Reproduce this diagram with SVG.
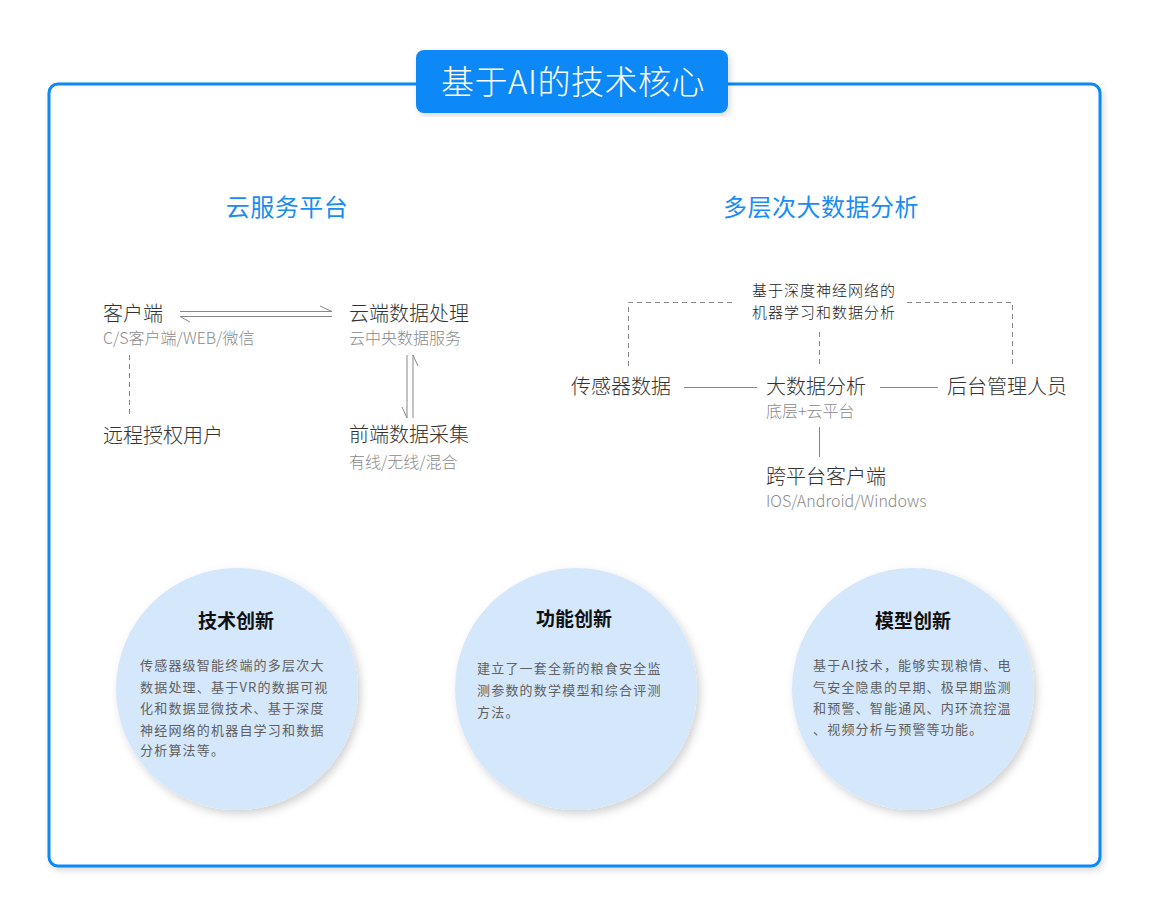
<svg xmlns="http://www.w3.org/2000/svg" width="1150" height="916" viewBox="0 0 1150 916">
<defs>
<style>
.t{font-family:"Noto Sans CJK SC","Noto Sans",sans-serif;}
.lbl{font-size:20px;fill:#333;font-weight:300;}
.sub{font-size:16px;fill:#8a8a8a;font-weight:300;}
.hd{font-size:24px;fill:#1a8cf5;letter-spacing:0.5px;}
.note{font-size:15px;fill:#222;letter-spacing:1px;font-weight:300;}
.ct{font-size:19px;font-weight:bold;fill:#111;text-anchor:middle;}
.cb{font-size:13px;fill:#606060;letter-spacing:1.2px;}
.ln{stroke:#888;stroke-width:1;fill:none;}
.dash{stroke:#888;stroke-width:1;fill:none;stroke-dasharray:5 4;}
.circ{fill:#d5e7fb;}
</style>
<filter id="sh" x="-20%" y="-20%" width="140%" height="140%">
<feDropShadow dx="3" dy="4" stdDeviation="4" flood-color="#000" flood-opacity="0.18"/>
</filter>
<filter id="sh2" x="-5%" y="-5%" width="110%" height="110%">
<feDropShadow dx="2" dy="3" stdDeviation="3" flood-color="#000" flood-opacity="0.15"/>
</filter>
</defs>
<rect width="1150" height="916" fill="#fff"/>
<g id="frame">
<rect x="49" y="84" width="1051" height="782" rx="9" fill="#fff" stroke="#0a88f7" stroke-width="3" filter="url(#sh2)"/>
</g>
<g id="title">
<rect x="416" y="50" width="312" height="63" rx="8" fill="#0a88f7" filter="url(#sh2)"/>
<text class="t" x="573" y="94" font-size="33" fill="#fff" text-anchor="middle" letter-spacing="0.5" font-weight="300">基于AI的技术核心</text>
</g>
<g id="hd-cloud"><text class="t hd" x="287" y="216" text-anchor="middle">云服务平台</text></g>
<g id="hd-big"><text class="t hd" x="821" y="216" text-anchor="middle">多层次大数据分析</text></g>

<g id="connectors">
<line class="ln" x1="180" y1="311.5" x2="332" y2="311.5"/>
<line class="ln" x1="320" y1="306" x2="332" y2="311.5"/>
<line class="ln" x1="180" y1="316.5" x2="332" y2="316.5"/>
<line class="ln" x1="180" y1="316.5" x2="190" y2="322"/>
<line class="ln" x1="407" y1="355" x2="407" y2="418"/>
<line class="ln" x1="402" y1="407" x2="407" y2="418"/>
<line class="ln" x1="413" y1="355" x2="413" y2="418"/>
<line class="ln" x1="413" y1="355" x2="418" y2="366"/>
<line class="dash" x1="129.5" y1="355" x2="129.5" y2="415"/>
<polyline class="dash" points="628.5,366 628.5,302.5 735,302.5"/>
<polyline class="dash" points="907,302.5 1012.5,302.5 1012.5,366"/>
<line class="dash" x1="819.5" y1="332" x2="819.5" y2="367"/>
<line class="ln" x1="684" y1="387.5" x2="757" y2="387.5"/>
<line class="ln" x1="880" y1="387.5" x2="938" y2="387.5"/>
<line class="ln" x1="819.5" y1="427" x2="819.5" y2="457"/>
</g>

<g id="n-client"><text class="t lbl" x="103" y="321">客户端</text><text class="t sub" x="103" y="344">C/S客户端/WEB/微信</text></g>
<g id="n-cloud"><text class="t lbl" x="349" y="321">云端数据处理</text><text class="t sub" x="349" y="344">云中央数据服务</text></g>
<g id="n-remote"><text class="t lbl" x="103" y="443">远程授权用户</text></g>
<g id="n-front"><text class="t lbl" x="349" y="442">前端数据采集</text><text class="t sub" x="349" y="468">有线/无线/混合</text></g>

<g id="n-ml"><text class="t note" x="824" y="296" text-anchor="middle">基于深度神经网络的</text><text class="t note" x="824" y="318" text-anchor="middle">机器学习和数据分析</text></g>
<g id="n-sensor"><text class="t lbl" x="571" y="394">传感器数据</text></g>
<g id="n-bigdata"><text class="t lbl" x="766" y="394">大数据分析</text><text class="t sub" x="766" y="417">底层+云平台</text></g>
<g id="n-admin"><text class="t lbl" x="947" y="394">后台管理人员</text></g>
<g id="n-cross"><text class="t lbl" x="766" y="484">跨平台客户端</text><text class="t sub" x="766" y="507">IOS/Android/Windows</text></g>

<g id="c-tech">
<circle class="circ" cx="237" cy="689" r="121" filter="url(#sh)"/>
<text class="t ct" x="236" y="628">技术创新</text>
<text class="t cb" x="140" y="670">传感器级智能终端的多层次大</text>
<text class="t cb" x="140" y="692">数据处理、基于VR的数据可视</text>
<text class="t cb" x="140" y="713">化和数据显微技术、基于深度</text>
<text class="t cb" x="140" y="735">神经网络的机器自学习和数据</text>
<text class="t cb" x="140" y="755">分析算法等。</text>
</g>
<g id="c-func">
<circle class="circ" cx="576" cy="689" r="121" filter="url(#sh)"/>
<text class="t ct" x="574" y="626">功能创新</text>
<text class="t cb" x="477" y="673">建立了一套全新的粮食安全监</text>
<text class="t cb" x="477" y="695">测参数的数学模型和综合评测</text>
<text class="t cb" x="477" y="717">方法。</text>
</g>
<g id="c-model">
<circle class="circ" cx="913" cy="689" r="121" filter="url(#sh)"/>
<text class="t ct" x="913" y="628">模型创新</text>
<text class="t cb" x="813" y="670">基于AI技术，能够实现粮情、电</text>
<text class="t cb" x="813" y="692">气安全隐患的早期、极早期监测</text>
<text class="t cb" x="813" y="713">和预警、智能通风、内环流控温</text>
<text class="t cb" x="813" y="734">、视频分析与预警等功能。</text>
</g>
</svg>
